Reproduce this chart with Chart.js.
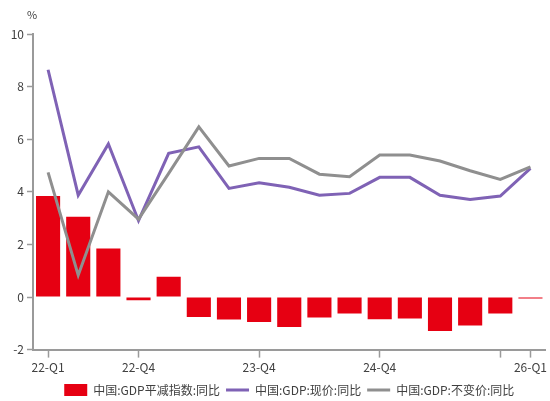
<!DOCTYPE html>
<html>
<head>
<meta charset="utf-8">
<script src="https://cdn.jsdelivr.net/npm/chart.js"></script>
<style>
  html, body { margin: 0; padding: 0; background: #fff; }
  #box { width: 550px; height: 401px; }
</style>
</head>
<body>
<div id="box"><canvas id="myChart"></canvas></div>
<script>
// quarters on the x axis
const quarters = ["22-Q1","22-Q2","22-Q3","22-Q4","23-Q1","23-Q2","23-Q3","23-Q4",
                  "24-Q1","24-Q2","24-Q3","24-Q4","25-Q1","25-Q2","25-Q3","25-Q4","26-Q1"];
// ticks with a mark, and ones with a mark but no text
const markedTicks = ["22-Q1","22-Q4","23-Q4","24-Q4","25-Q4","26-Q1"];
const silentTicks = ["25-Q4"];
const yTicks = [-2, 0, 2, 4, 6, 8, 10];

// 中国:GDP平减指数:同比
const deflator = [3.84, 3.05, 1.84, -0.12, 0.77, -0.76, -0.86, -0.95,
                  -1.14, -0.78, -0.63, -0.85, -0.82, -1.29, -1.08, -0.63, -0.06];
// 中国:GDP:现价:同比
const nominal = [8.64, 3.87, 5.82, 2.9, 5.46, 5.71, 4.13, 4.34,
                 4.17, 3.87, 3.94, 4.55, 4.55, 3.87, 3.71, 3.84, 4.89];
// 中国:GDP:不变价:同比
const real = [4.74, 0.83, 4.0, 2.96, 4.7, 6.47, 4.98, 5.27,
              5.27, 4.67, 4.57, 5.4, 5.4, 5.17, 4.8, 4.47, 4.95];

const axisColor = "#9a9a9a";
const textColor = "#404040";
Chart.defaults.font.family = "'Noto Sans CJK SC', 'Noto Sans', sans-serif";
Chart.defaults.font.size = 12;
Chart.defaults.color = textColor;

const percentLabel = {
    id: "percentLabel",
    afterDraw(chart) {
        const ctx = chart.ctx;
        const y = chart.scales.y;
        ctx.save();
        ctx.fillStyle = textColor;
        ctx.font = "11px 'Noto Sans CJK SC', sans-serif";
        ctx.textAlign = "center";
        ctx.textBaseline = "middle";
        ctx.fillText("%", y.right - 1, 15);
        ctx.restore();
    }
};

new Chart("myChart", {
    type: "bar",
    data: {
        labels: quarters,
        datasets: [{
            type: "bar",
            label: "中国:GDP平减指数:同比",
            data: deflator,
            backgroundColor: "#e60012",
            barPercentage: 0.8,
            categoryPercentage: 1.0,
            pointStyle: "rect",
            order: 2
        }, {
            type: "line",
            label: "中国:GDP:现价:同比",
            data: nominal,
            borderColor: "#7f62b5",
            backgroundColor: "#7f62b5",
            borderWidth: 3,
            pointRadius: 0,
            tension: 0,
            fill: false,
            pointStyle: "line",
            order: 1
        }, {
            type: "line",
            label: "中国:GDP:不变价:同比",
            data: real,
            borderColor: "#8f8f8f",
            backgroundColor: "#8f8f8f",
            borderWidth: 3,
            pointRadius: 0,
            tension: 0,
            fill: false,
            pointStyle: "line",
            order: 0
        }]
    },
    options: {
        responsive: true,
        maintainAspectRatio: false,
        animation: false,
        layout: { padding: { top: 34, right: 1, left: 0, bottom: -5 } },
        plugins: {
            tooltip: { enabled: false },
            legend: {
                position: "bottom",
                fullSize: false,
                labels: {
                    usePointStyle: true,
                    pointStyleWidth: 23,
                    boxHeight: 12,
                    padding: 6,
                    color: textColor,
                    font: { size: 12 },
                    sort: (a, b) => a.datasetIndex - b.datasetIndex
                }
            }
        },
        scales: {
            x: {
                offset: true,
                grid: {
                    display: true,
                    drawOnChartArea: false,
                    offset: false,
                    tickLength: 8,
                    tickWidth: 1.5,
                    tickColor: (c) => markedTicks.includes(quarters[c.index]) ? axisColor : "rgba(0,0,0,0)"
                },
                border: { color: axisColor, width: 2 },
                ticks: {
                    autoSkip: false,
                    maxRotation: 0,
                    padding: 3,
                    color: textColor,
                    callback: (v, i) => (markedTicks.includes(quarters[i]) && !silentTicks.includes(quarters[i])) ? quarters[i] : ""
                }
            },
            y: {
                min: -2,
                max: 10,
                afterBuildTicks: (s) => { s.ticks = yTicks.map(v => ({ value: v })); },
                afterFit: (s) => { s.width = 33; },
                grid: {
                    drawOnChartArea: false,
                    tickLength: 6,
                    tickWidth: 1.5,
                    tickColor: axisColor
                },
                border: { color: axisColor, width: 2 },
                ticks: { padding: 3, color: textColor }
            }
        }
    },
    plugins: [percentLabel]
});
</script>
</body>
</html>
